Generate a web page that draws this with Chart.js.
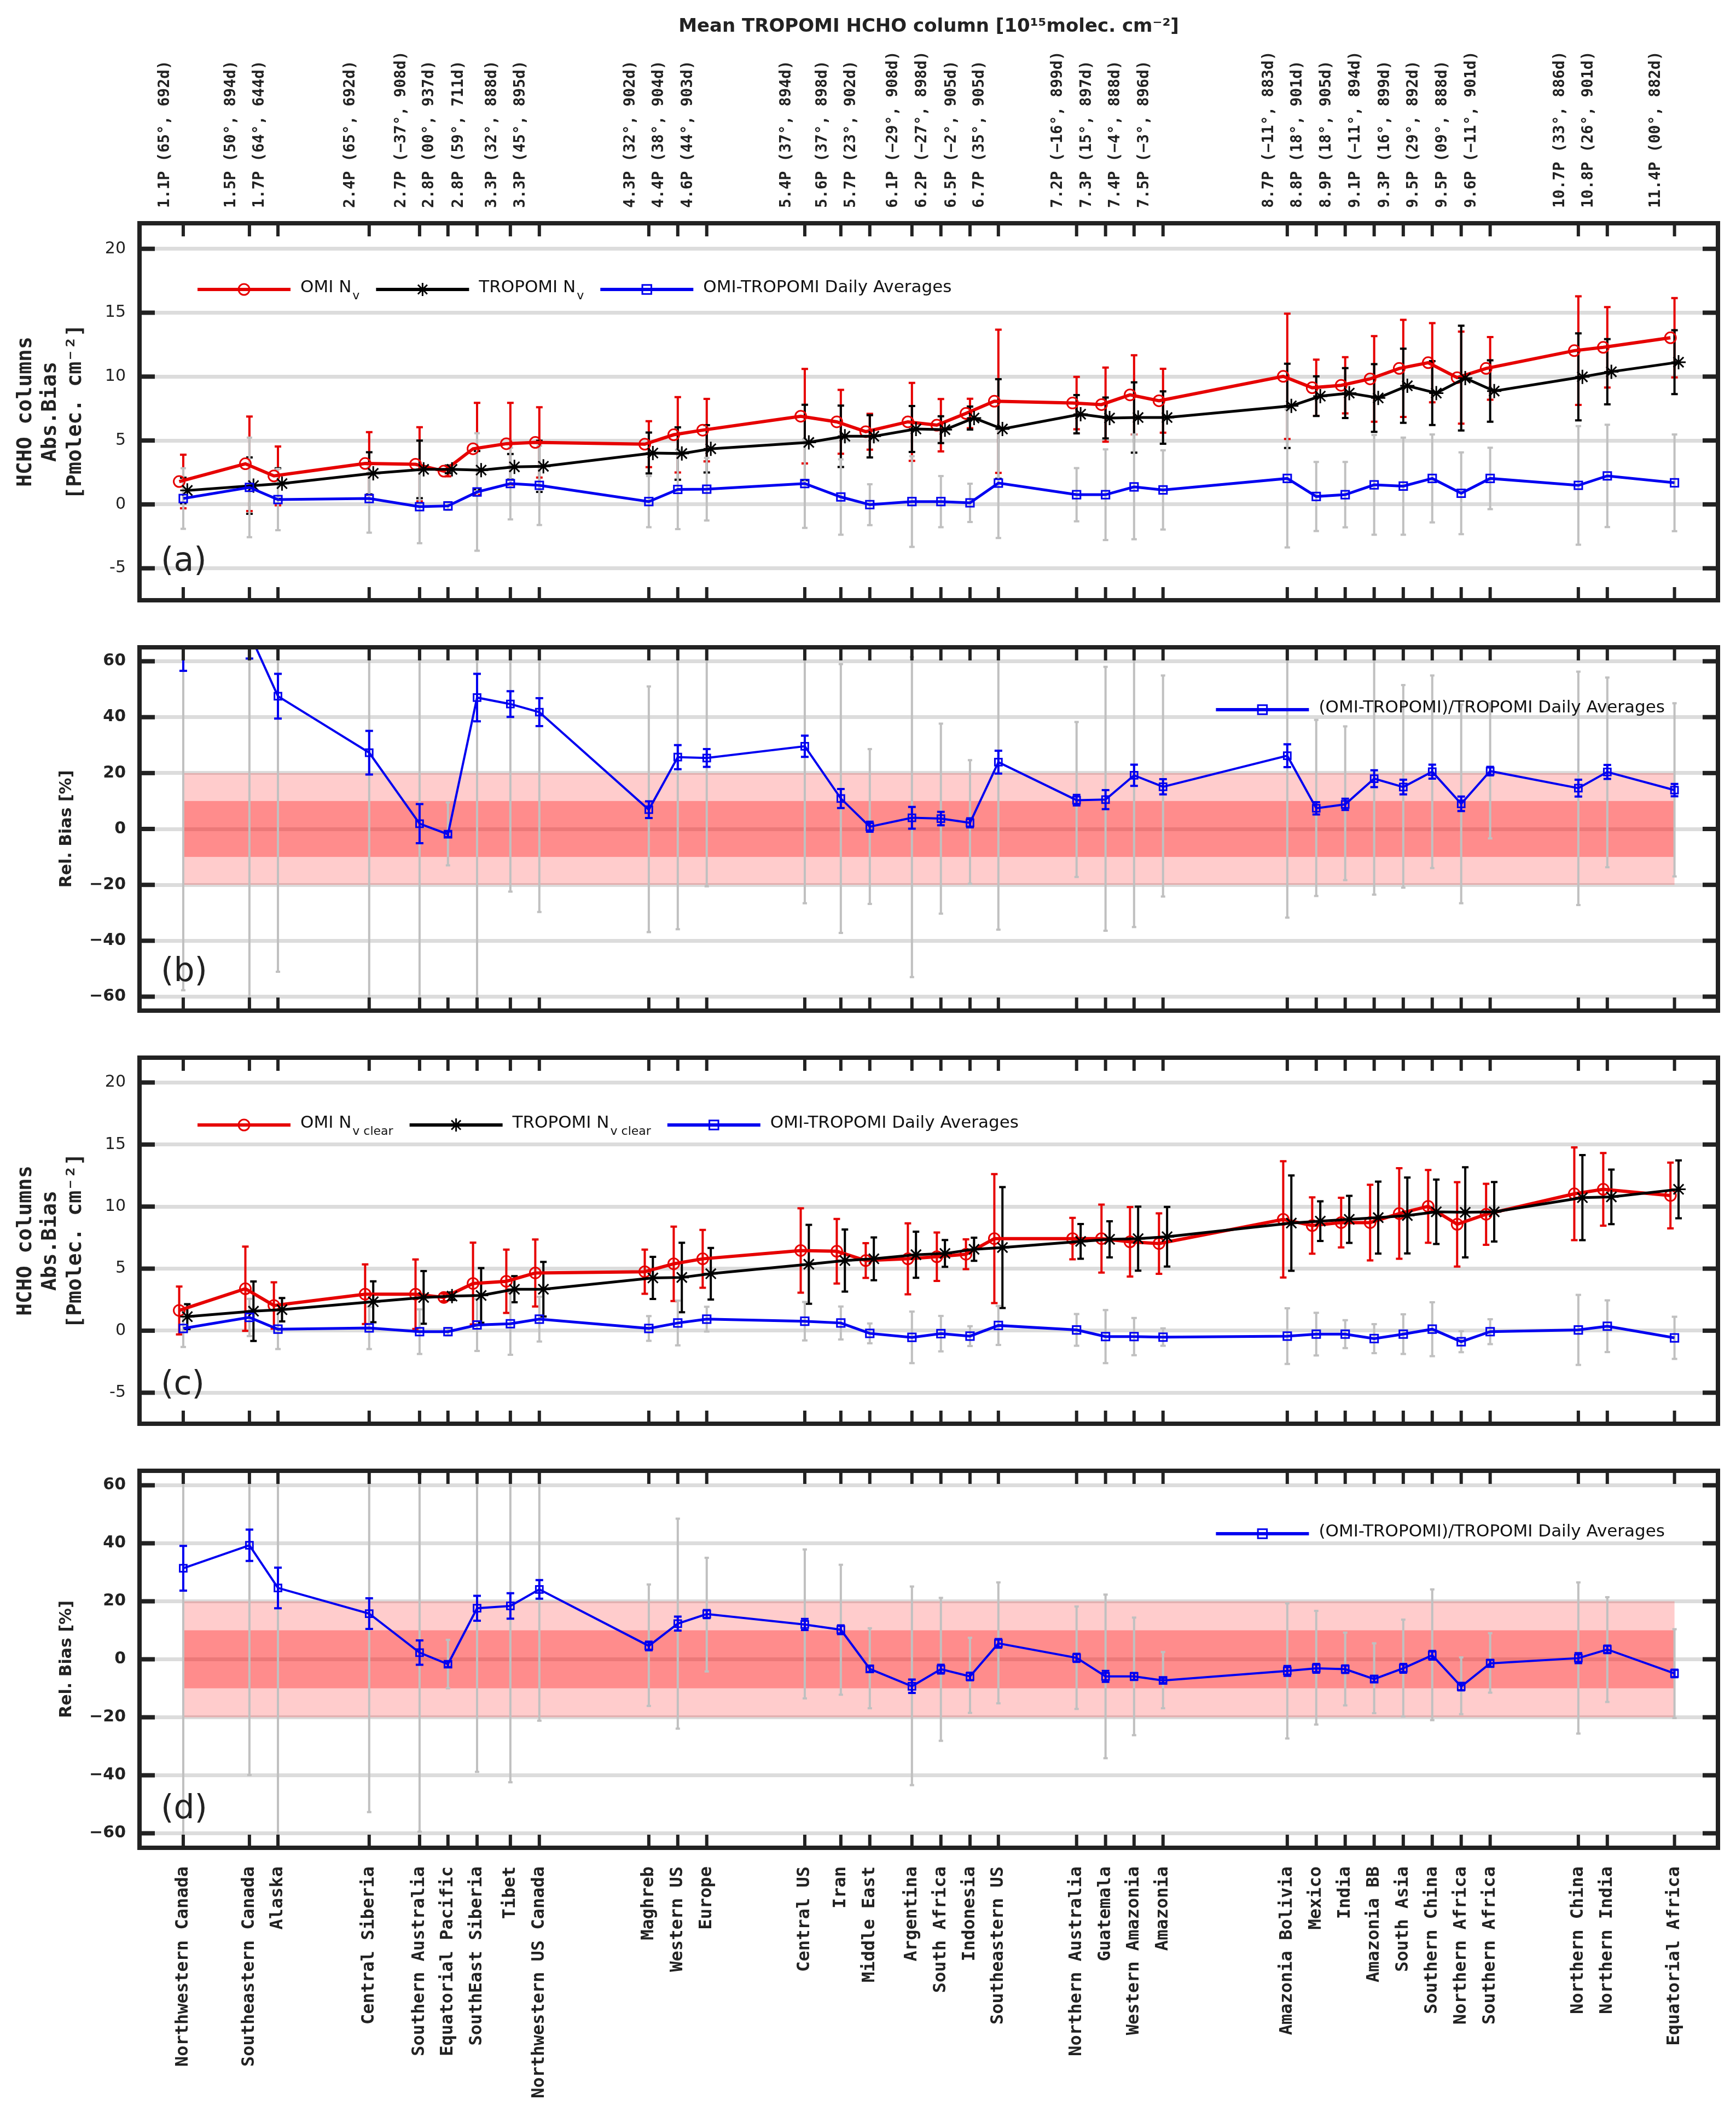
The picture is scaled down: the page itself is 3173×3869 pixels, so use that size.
<!DOCTYPE html>
<html>
<head>
<meta charset="utf-8">
<script src="https://cdn.jsdelivr.net/npm/chart.js@4.4.1/dist/chart.umd.min.js"></script>
<style>
body{margin:0;background:#fff;width:3173px;height:3869px;position:relative;overflow:hidden}
.p{position:absolute;left:0;width:3173px}
</style>
</head>
<body>
<div class="p" style="top:0;height:1140px"><canvas id="cA" width="3173" height="1140"></canvas></div>
<div class="p" style="top:1140px;height:750px"><canvas id="cB" width="3173" height="750"></canvas></div>
<div class="p" style="top:1890px;height:755px"><canvas id="cC" width="3173" height="755"></canvas></div>
<div class="p" style="top:2645px;height:1224px"><canvas id="cD" width="3173" height="1224"></canvas></div>
<script>
// x position of each region (in TROPOMI column units, labels pushed apart as in the figure)
const xPos=[1.100,1.557,1.754,2.384,2.732,2.928,3.129,3.359,3.559,4.315,4.515,4.715,5.392,5.641,5.841,6.132,6.332,6.533,6.729,7.269,7.469,7.666,7.866,8.724,8.924,9.124,9.324,9.525,9.725,9.925,10.125,10.734,10.934,11.398];
const topLabels=["1.1P (65°, 692d)","1.5P (50°, 894d)","1.7P (64°, 644d)","2.4P (65°, 692d)","2.7P (−37°, 908d)","2.8P (00°, 937d)","2.8P (59°, 711d)","3.3P (32°, 888d)","3.3P (45°, 895d)","4.3P (32°, 902d)","4.4P (38°, 904d)","4.6P (44°, 903d)","5.4P (37°, 894d)","5.6P (37°, 898d)","5.7P (23°, 902d)","6.1P (−29°, 908d)","6.2P (−27°, 898d)","6.5P (−2°, 905d)","6.7P (35°, 905d)","7.2P (−16°, 899d)","7.3P (15°, 897d)","7.4P (−4°, 888d)","7.5P (−3°, 896d)","8.7P (−11°, 883d)","8.8P (18°, 901d)","8.9P (18°, 905d)","9.1P (−11°, 894d)","9.3P (16°, 899d)","9.5P (29°, 892d)","9.5P (09°, 888d)","9.6P (−11°, 901d)","10.7P (33°, 886d)","10.8P (26°, 901d)","11.4P (00°, 882d)"];
const regions=["Northwestern Canada","Southeastern Canada","Alaska","Central Siberia","Southern Australia","Equatorial Pacific","SouthEast Siberia","Tibet","Northwestern US Canada","Maghreb","Western US","Europe","Central US","Iran","Middle East","Argentina","South Africa","Indonesia","Southeastern US","Northern Australia","Guatemala","Western Amazonia","Amazonia","Amazonia Bolivia","Mexico","India","Amazonia BB","South Asia","Southern China","Northern Africa","Southern Africa","Northern China","Northern India","Equatorial Africa"];
const absTicks=[-5,0,5,10,15,20];
const relTicks=[-60,-40,-20,0,20,40,60];

/* (a) all-sky columns */
const omiA=[1.79,3.18,2.23,3.20,3.14,2.60,4.35,4.75,4.85,4.71,5.45,5.81,6.90,6.46,5.69,6.46,6.20,7.12,8.07,7.93,7.81,8.57,8.11,10.02,9.13,9.32,9.82,10.64,11.09,9.92,10.64,12.03,12.29,13.04];
const omiAErr=[2.1,3.7,2.3,2.45,2.9,0.4,3.6,3.2,2.75,1.8,2.95,2.45,3.7,2.5,1.4,3.05,2.05,1.15,5.6,2.05,2.9,3.1,2.5,4.9,2.2,2.2,3.35,3.8,3.1,3.6,2.45,4.25,3.15,3.1];
const tropA=[1.09,1.47,1.63,2.43,2.74,2.74,2.68,2.94,2.98,4.02,3.98,4.35,4.85,5.33,5.33,5.90,5.85,6.76,5.90,7.06,6.76,6.80,6.80,7.71,8.47,8.71,8.33,9.28,8.71,9.88,8.87,9.98,10.38,11.13];
const tropAErr=[1.0,2.2,1.2,1.65,2.25,0.3,1.5,1.0,2.0,1.6,2.05,1.85,2.95,2.4,1.65,1.8,1.05,0.9,3.9,1.5,1.6,2.75,2.05,3.3,1.55,1.95,2.65,2.9,2.5,4.1,2.4,3.4,2.55,2.5];
const diffA=[0.46,1.33,0.38,0.46,-0.18,-0.12,0.97,1.63,1.49,0.22,1.17,1.19,1.63,0.58,-0.02,0.22,0.22,0.12,1.67,0.76,0.76,1.37,1.13,2.03,0.62,0.76,1.53,1.43,2.03,0.87,2.03,1.49,2.23,1.69];
const diffAErr=[2.37,3.9,2.4,2.67,2.86,0.3,4.6,2.8,3.1,2.0,3.1,2.45,3.47,2.95,1.6,3.55,2.0,1.5,4.3,2.08,3.55,4.1,3.1,5.4,2.7,2.56,3.9,3.8,3.44,3.2,2.4,4.64,4.0,3.78];

/* (b) relative bias, all-sky */
const relB=[68,70,47.5,27.3,1.9,-1.9,47,44.7,41.8,6.9,25.7,25.4,29.6,10.9,0.8,4.0,3.7,2.2,23.9,10.3,10.5,19.2,15.1,26.2,7.4,8.8,18.0,15.0,20.5,9.0,20.7,14.6,20.4,13.9];
const relBErr=[11.4,9,8,7.8,7,1,8.5,4.6,5,3,4.3,3.2,3.8,3.4,1.8,3.9,2.4,1.6,4.1,1.9,3.4,3.8,2.7,4.1,2.2,2,3,2.6,2.5,2.6,1.5,3,2.5,2.2];
const relBLow=[-57.7,-90,-51.1,-90,-90,-13,-90,-22.4,-29.7,-36.9,-35.9,-20.5,-26.6,-37.2,-26.8,-53,-30.3,-19.6,-36,-17.2,-36.4,-35.1,-24.2,-31.7,-24,-18.3,-23.5,-21,-14,-26.6,-3.4,-27.2,-13.7,-17];
const relBHigh=[190,190,146,90,90,9.5,90,112,112,51,87,71,85,59,28.6,61.5,37.7,24.6,84,38.3,58,73,54.9,84,39,36.7,90,51.5,54.9,44.5,45,56.3,54.2,45];

/* (c) clear-sky columns */
const omiC=[1.63,3.38,2.03,2.94,2.94,2.68,3.80,3.98,4.65,4.75,5.39,5.79,6.46,6.40,5.65,5.79,5.96,6.16,7.42,7.42,7.42,7.16,7.02,8.97,8.47,8.71,8.71,9.44,10.02,8.57,9.38,11.03,11.39,10.89];
const omiCErr=[1.93,3.4,1.87,2.4,2.8,0.3,3.3,2.55,2.7,1.78,3.0,2.33,3.4,2.6,1.4,2.86,1.95,1.2,5.2,1.67,2.74,2.8,2.44,4.68,2.27,2.0,3.05,3.65,2.93,3.4,2.46,3.74,2.93,2.65];
const tropC=[1.13,1.57,1.69,2.33,2.68,2.78,2.84,3.34,3.34,4.25,4.29,4.59,5.35,5.65,5.79,6.12,6.22,6.56,6.70,7.20,7.36,7.42,7.57,8.67,8.83,8.97,9.11,9.28,9.58,9.54,9.58,10.72,10.78,11.39];
const tropCErr=[1.0,2.4,0.94,1.65,2.12,0.3,2.2,1.05,2.2,1.7,2.8,2.08,3.18,2.5,1.73,1.86,1.08,0.93,4.87,1.4,1.46,2.58,2.4,3.84,1.6,1.9,2.9,3.06,2.6,3.63,2.4,3.43,2.2,2.33];
const diffC=[0.18,1.07,0.12,0.22,-0.08,-0.08,0.46,0.56,0.93,0.18,0.62,0.93,0.76,0.62,-0.22,-0.54,-0.24,-0.44,0.42,0.06,-0.48,-0.48,-0.52,-0.44,-0.28,-0.28,-0.64,-0.28,0.12,-0.89,-0.08,0.06,0.36,-0.58];
const diffCErr=[1.5,1.5,1.6,1.7,1.8,0.3,2.1,2.5,1.8,1.0,1.8,1.0,1.55,1.33,0.8,2.08,1.43,0.8,1.57,1.28,2.14,1.5,0.7,2.24,1.72,1.12,1.17,1.6,2.17,0.84,1.0,2.82,2.08,1.7];

/* (d) relative bias, clear-sky */
const relD=[31.4,39.3,24.6,15.75,2.3,-1.7,17.6,18.4,24.1,4.6,12.3,15.6,12.0,10.2,-3.3,-9.3,-3.4,-5.9,5.5,0.5,-5.9,-5.9,-7.3,-4.0,-3.1,-3.4,-6.8,-3.1,1.4,-9.4,-1.4,0.4,3.4,-4.9];
const relDErr=[7.7,5.4,7,5.3,4.2,1,4.3,4.4,3.2,1.5,2.4,1.4,1.9,1.5,1.1,2.3,1.5,1.3,1.5,1.4,1.9,1.2,0.9,1.7,1.5,1.3,1.1,1.5,1.5,1.3,1.2,1.7,1.3,1.3];
const relDLow=[-90,-39.9,-90,-52.7,-59.5,-10,-38.8,-42.4,-21.2,-16.1,-23.9,-4.2,-13.5,-12.2,-16.9,-43.4,-28.1,-18.5,-15.2,-17.1,-34.1,-26.2,-16.9,-27.3,-22.5,-15.9,-18.6,-19.7,-21,-18.9,-11.5,-25.6,-14.7,-20.3];
const relDHigh=[90,118,90,84,64,6.7,74,79,69,25.8,48.5,35,37.9,32.6,10.7,25.1,21.2,7.4,26.5,18.2,22.3,14.4,2.5,19.3,16.7,9.2,5.5,13.7,24.1,0.65,9,26.5,21.4,10.4];

const X_MIN=0.798,X_MAX=11.698,DX=0.028;
const RED="#e60000",BLUE="#0000f0",GRAY="#c0c0c0",INK="#222";
Chart.defaults.font.family="'DejaVu Sans', sans-serif";
Chart.defaults.color=INK;

function pts(v,dx){return xPos.map((x,i)=>({x:x+dx,y:v[i]}));}

function lineSet(label,v,color,style,r,w,dx,order){
return {label:label,data:pts(v,dx),borderColor:color,backgroundColor:"rgba(0,0,0,0)",borderWidth:w,
pointStyle:style,pointRadius:r,pointBorderWidth:3,pointBorderColor:color,pointBackgroundColor:"rgba(0,0,0,0)",
tension:0,order:order};
}

/* shaded +-10/+-20 % bands */
const bandPlugin={id:"bands",beforeDatasetsDraw(c){
if(!c.$bands) return;
const {ctx,scales:{x,y}}=c;
const l=x.getPixelForValue(xPos[0]),r=x.getPixelForValue(xPos[xPos.length-1]);
ctx.save();
ctx.fillStyle="rgba(255,0,0,0.2)";
ctx.fillRect(l,y.getPixelForValue(20),r-l,y.getPixelForValue(-20)-y.getPixelForValue(20));
ctx.fillStyle="rgba(255,0,0,0.3125)";
ctx.fillRect(l,y.getPixelForValue(10),r-l,y.getPixelForValue(-10)-y.getPixelForValue(10));
ctx.restore();
}};

/* error bars */
const errPlugin={id:"errs",beforeDatasetsDraw(c){
const {ctx,chartArea:a,scales:{x,y}}=c;
ctx.save();
ctx.beginPath();ctx.rect(a.left,a.top,a.right-a.left,a.bottom-a.top);ctx.clip();
(c.$errs||[]).forEach(s=>{
ctx.strokeStyle=s.color;ctx.lineWidth=s.width;
xPos.forEach((xv,i)=>{
const lo=s.low?s.low[i]:s.val[i]-s.err[i],hi=s.high?s.high[i]:s.val[i]+s.err[i];
const px=x.getPixelForValue(xv+s.dx),p1=y.getPixelForValue(lo),p2=y.getPixelForValue(hi);
ctx.beginPath();
ctx.moveTo(px,p1);ctx.lineTo(px,p2);
ctx.moveTo(px-s.cap,p1);ctx.lineTo(px+s.cap,p1);
ctx.moveTo(px-s.cap,p2);ctx.lineTo(px+s.cap,p2);
ctx.stroke();
});
});
ctx.restore();
}};

function marker(ctx,style,x,y,r){
ctx.beginPath();
if(style==="circle"){ctx.arc(x,y,r,0,Math.PI*2);}
else if(style==="rect"){const s=r*0.75;ctx.rect(x-s,y-s,2*s,2*s);}
else{for(let k=0;k<4;k++){const t=k*Math.PI/4;ctx.moveTo(x-r*Math.cos(t),y-r*Math.sin(t));ctx.lineTo(x+r*Math.cos(t),y+r*Math.sin(t));}}
ctx.stroke();
}

/* frame, inner ticks, panel letter and legend */
const framePlugin={id:"frame",afterDraw(c){
const {ctx,chartArea:a,scales:{x,y}}=c;
ctx.save();
ctx.fillStyle=INK;
xPos.forEach(v=>{const p=x.getPixelForValue(v);ctx.fillRect(p-3,a.top,6,24);ctx.fillRect(p-3,a.bottom-24,6,24);});
c.$yt.forEach(v=>{const p=y.getPixelForValue(v);ctx.fillRect(a.left,p-4,28,8);ctx.fillRect(a.right-28,p-4,28,8);});
ctx.strokeStyle=INK;ctx.lineWidth=8;
ctx.strokeRect(a.left,a.top,a.right-a.left,a.bottom-a.top);
ctx.font="60px 'DejaVu Sans'";ctx.textBaseline="alphabetic";ctx.textAlign="left";
ctx.fillText(c.$letter,a.left+39,a.bottom-54);
const L=c.$legend,ly=a.top+L.dy;
ctx.textBaseline="middle";
let items=L.items;
let widths=items.map(it=>{ctx.font="31px 'DejaVu Sans'";let w=ctx.measureText(it.text).width;
if(it.sub){ctx.font="22px 'DejaVu Sans'";w+=ctx.measureText(it.sub).width+2;}return w;});
let cx=L.right?a.right-L.right-widths[0]-18-170:a.left+L.left;
items.forEach((it,i)=>{
ctx.strokeStyle=it.color;ctx.lineWidth=6;
ctx.beginPath();ctx.moveTo(cx,ly);ctx.lineTo(cx+170,ly);ctx.stroke();
ctx.lineWidth=3;marker(ctx,it.style,cx+85,ly,it.r);
let tx=cx+188;
ctx.fillStyle="#111";ctx.font="31px 'DejaVu Sans'";ctx.fillText(it.text,tx,ly-3);
let tw=ctx.measureText(it.text).width;
if(it.sub){ctx.font="22px 'DejaVu Sans'";ctx.fillText(it.sub,tx+tw+2,ly+12);}
cx=tx+widths[i]+30;
});
ctx.restore();
}};

function yAxis(o){
return {position:"left",min:o.min,max:o.max,
afterBuildTicks:s=>{s.ticks=o.ticks.map(v=>({value:v}));},
afterFit:s=>{s.width=255;},
grid:{color:"#dcdcdc",lineWidth:7,drawTicks:false},
border:{display:false},
ticks:{padding:25,color:INK,font:{size:30,weight:o.bold?"bold":"normal"},
callback:v=>o.bold&&v<0?"−"+Math.abs(v):String(v)},
title:{display:true,text:o.title,color:INK,font:o.tfont,padding:{top:o.tpad,bottom:0}}};
}

function xAxis(o){
if(!o) return {type:"linear",min:X_MIN,max:X_MAX,display:false};
return {type:"linear",position:o.pos,min:X_MIN,max:X_MAX,
afterBuildTicks:s=>{s.ticks=xPos.map(v=>({value:v}));},
afterFit:s=>{s.height=o.h;},
grid:{display:false,drawTicks:false},border:{display:false},
ticks:{autoSkip:false,minRotation:90,maxRotation:90,padding:o.pad,color:INK,
font:{family:"'DejaVu Sans Mono', monospace",size:o.size,weight:"bold"},callback:(v,i)=>o.labels[i]},
title:o.title||{display:false}};
}

function panel(id,o){
const ch=new Chart(document.getElementById(id),{
type:"line",
data:{datasets:o.datasets},
options:{responsive:false,animation:false,devicePixelRatio:1,
layout:{padding:o.pad},
plugins:{legend:{display:false},tooltip:{enabled:false}},
scales:o.scales},
plugins:[bandPlugin,errPlugin,framePlugin,{id:"cfg",beforeInit(c){c.$bands=o.bands;c.$errs=o.errs;c.$yt=o.yt;c.$letter=o.letter;c.$legend=o.legend;}}]
});
return ch;
}

const absTitle=["HCHO columns","Abs.Bias","[Pmolec. cm⁻²]"];
const absFont={family:"'DejaVu Sans Mono', monospace",size:38,weight:"bold",lineHeight:1.2};
const relFont={size:30,weight:"bold",lineHeight:1.2};

function absPanel(id,pad,omi,omiErr,trop,tropErr,diff,diffErr,letter,sub,legendDy,barDx,xs){
const scales={x:xAxis(),y:yAxis({min:-7.5,max:22,ticks:absTicks,bold:false,title:absTitle,tfont:absFont,tpad:24})};
if(xs) scales.xTop=xs;
return panel(id,{pad:pad,scales:scales,yt:absTicks,letter:letter,bands:false,
datasets:[
lineSet("OMI-TROPOMI Daily Averages",diff,BLUE,"rect",10,5,0,0),
lineSet("TROPOMI",trop,"#000","star",13,5,DX,1),
lineSet("OMI",omi,RED,"circle",10,6,-DX,2)],
errs:[
{val:omi,err:omiErr,dx:-barDx,color:RED,width:4,cap:6},
{val:trop,err:tropErr,dx:barDx,color:"#000",width:4,cap:6},
{val:diff,err:diffErr,dx:0,color:GRAY,width:4,cap:5}],
legend:{dy:legendDy,left:106,items:[
{text:"OMI N",sub:sub,color:RED,style:"circle",r:10},
{text:"TROPOMI N",sub:sub,color:"#000",style:"star",r:12},
{text:"OMI-TROPOMI Daily Averages",color:BLUE,style:"rect",r:11}]}});
}

function relPanel(id,pad,rel,relErr,low,high,letter,legendDy,xs){
const scales={x:xs||xAxis(),y:yAxis({min:-65,max:65,ticks:relTicks,bold:true,title:"Rel. Bias [%]",tfont:relFont,tpad:104})};
return panel(id,{pad:pad,scales:scales,yt:relTicks,letter:letter,bands:true,
datasets:[lineSet("(OMI-TROPOMI)/TROPOMI Daily Averages",rel,BLUE,"rect",9,4,0,0)],
errs:[
{low:low,high:high,dx:0,color:GRAY,width:4,cap:4},
{val:rel,err:relErr,dx:0,color:BLUE,width:4,cap:7}],
legend:{dy:legendDy,right:97,items:[{text:"(OMI-TROPOMI)/TROPOMI Daily Averages",color:BLUE,style:"rect",r:11}]}});
}

absPanel("cA",{left:0,right:33,top:0,bottom:21},omiA,omiAErr,tropA,tropAErr,diffA,diffAErr,"(a)","v",121,0,
xAxis({pos:"top",h:408,pad:28,size:28,labels:topLabels,
title:{display:true,text:"Mean TROPOMI HCHO column [10¹⁵molec. cm⁻²]",color:INK,font:{size:34,weight:"bold",lineHeight:1.2},padding:{top:29,bottom:0}}}));
relPanel("cB",{left:0,right:33,top:18,bottom:20},relB,relBErr,relBLow,relBHigh,"(b)",114);
absPanel("cC",{left:0,right:33,top:23,bottom:20},omiC,omiCErr,tropC,tropCErr,diffC,diffCErr,"(c)","v clear",123,DX);
relPanel("cD",{left:0,right:33,top:20,bottom:0},relD,relDErr,relDLow,relDHigh,"(d)",115,
xAxis({pos:"bottom",h:492,pad:34,size:32,labels:regions}));
</script>
</body>
</html>
